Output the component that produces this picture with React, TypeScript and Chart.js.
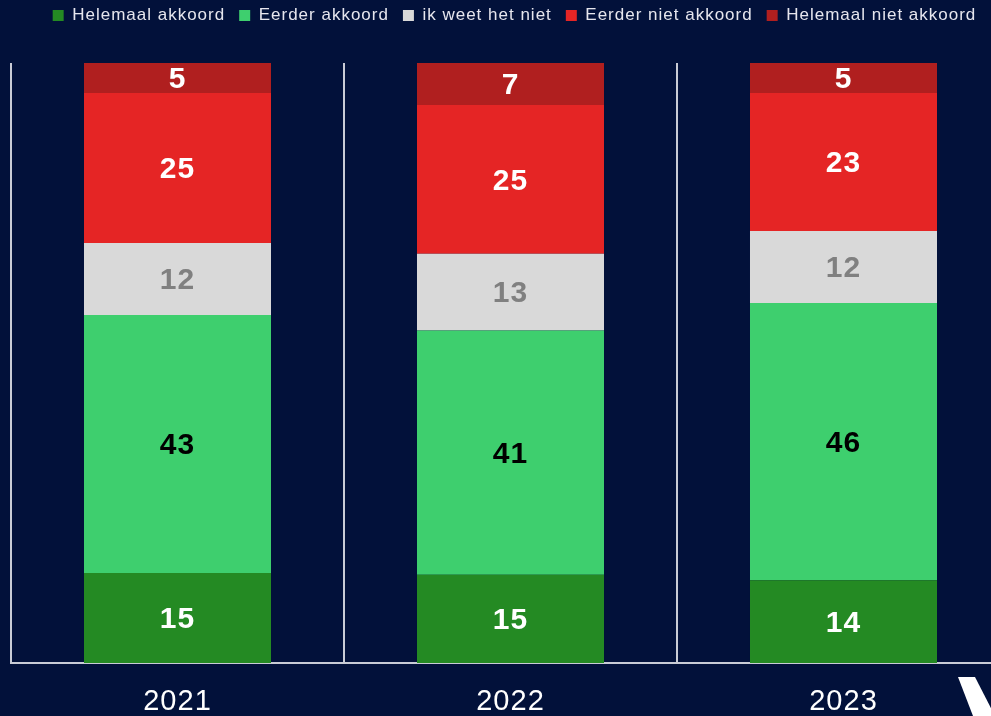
import React, { useEffect, useRef } from "react";
import { Chart, registerables } from "chart.js";

Chart.register(...registerables);

const years = ["2021", "2022", "2023"];
const seriesNames = [
  "Helemaal akkoord",
  "Eerder akkoord",
  "ik weet het niet",
  "Eerder niet akkoord",
  "Helemaal niet akkoord",
];
const helemaalAkkoord = [15, 14.7, 13.8];
const eerderAkkoord = [43, 40.7, 46.2];
const weetNiet = [12, 12.8, 12];
const eerderNietAkkoord = [25, 24.8, 23];
const helemaalNietAkkoord = [5, 7, 5];

const seriesColors = ["#248a23", "#3ecf6e", "#d9d9d9", "#e52525", "#b01f1f"];
const labelColors = ["#ffffff", "#000000", "#808080", "#ffffff", "#ffffff"];
const BG = "#02113a";
const FONT = "'Liberation Sans', Arial, sans-serif";

export default function App() {
  const ref = useRef<HTMLCanvasElement | null>(null);

  useEffect(() => {
    if (!ref.current) return;
    const values = [helemaalAkkoord, eerderAkkoord, weetNiet, eerderNietAkkoord, helemaalNietAkkoord];

    const spacingPlugin = {
      id: "spacing",
      beforeLayout(chart: any) {
        chart.ctx.letterSpacing = "1px";
        const legend = chart.legend;
        if (legend && !legend.__patched) {
          const orig = legend.draw;
          legend.draw = function (...a: any[]) {
            const ctx = chart.ctx;
            ctx.save();
            ctx.letterSpacing = "1px";
            ctx.translate(4, -7);
            orig.apply(this, a);
            ctx.restore();
            ctx.letterSpacing = "0px";
          };
          const origFit = legend.fit;
          legend.fit = function (...a: any[]) {
            const mw = this.maxWidth;
            this.maxWidth = mw + 150;
            origFit.apply(this, a);
            this.maxWidth = mw;
            this.width = mw;
            this.height += 22;
          };
          legend.__patched = true;
        }
        const x = chart.scales.x;
        if (x && !x.__patched) {
          const origL = x.drawLabels;
          x.drawLabels = function (...a: any[]) {
            chart.ctx.letterSpacing = "1px";
            origL.apply(this, a);
            chart.ctx.letterSpacing = "0px";
          };
          x.__patched = true;
        }
      },
      afterLayout(chart: any) {
        chart.ctx.letterSpacing = "0px";
      },
    };

    const labelPlugin = {
      id: "barLabels",
      afterDatasetsDraw(chart: any) {
        const ctx = chart.ctx;
        ctx.save();
        ctx.letterSpacing = "1px";
        ctx.font = `bold 30px ${FONT}`;
        ctx.textAlign = "center";
        ctx.textBaseline = "middle";
        chart.data.datasets.forEach((ds: any, i: number) => {
          const meta = chart.getDatasetMeta(i);
          meta.data.forEach((el: any, j: number) => {
            const c = el.getCenterPoint();
            ctx.fillStyle = labelColors[i];
            ctx.fillText(String(Math.round(ds.data[j])), c.x, c.y + 2);
          });
        });
        ctx.restore();
      },
      afterDraw(chart: any) {
        const ctx = chart.ctx;
        ctx.save();
        ctx.fillStyle = "#ffffff";
        ctx.beginPath();
        ctx.moveTo(958, 677);
        ctx.lineTo(975, 677);
        ctx.lineTo(995, 716);
        ctx.lineTo(973, 716);
        ctx.closePath();
        ctx.fill();
        ctx.restore();
      },
    };

    const chart = new Chart(ref.current, {
      type: "bar",
      data: {
        labels: years,
        datasets: seriesNames.map((name, i) => ({
          label: name,
          data: values[i],
          backgroundColor: seriesColors[i],
          borderWidth: 0,
          categoryPercentage: 1,
          barPercentage: 0.5616,
        })),
      },
      options: {
        responsive: false,
        animation: false,
        layout: { padding: { left: 11, right: 20, top: 0, bottom: 0 } },
        plugins: {
          tooltip: { enabled: false },
          legend: {
            position: "top",
            align: "center",
            labels: {
              color: "#e6e6ee",
              font: { family: FONT, size: 17 },
              boxWidth: 11,
              boxHeight: 11,
              padding: 14,
            },
          } as any,
        },
        scales: {
          x: {
            stacked: true,
            offset: true,
            afterFit(scale: any) {
              scale.height = 53;
            },
            grid: {
              display: true,
              offset: true,
              color: "#c9ccd6",
              lineWidth: 2,
              drawTicks: false,
            },
            border: { display: true, color: "#c9ccd6", width: 2 },
            ticks: {
              color: "#ffffff",
              font: { family: FONT, size: 29 },
              padding: 22,
            },
          },
          y: {
            stacked: true,
            min: 0,
            max: 100,
            display: false,
          },
        },
      },
      plugins: [spacingPlugin, labelPlugin],
    });
    return () => chart.destroy();
  }, []);

  return (
    <div
      style={{
        position: "fixed",
        left: 0,
        top: 0,
        width: "100vw",
        height: "100vh",
        overflow: "hidden",
        background: BG,
      }}
    >
      <canvas ref={ref} width={1030} height={716} style={{ display: "block", width: 1030, height: 716 }} />
    </div>
  );
}
